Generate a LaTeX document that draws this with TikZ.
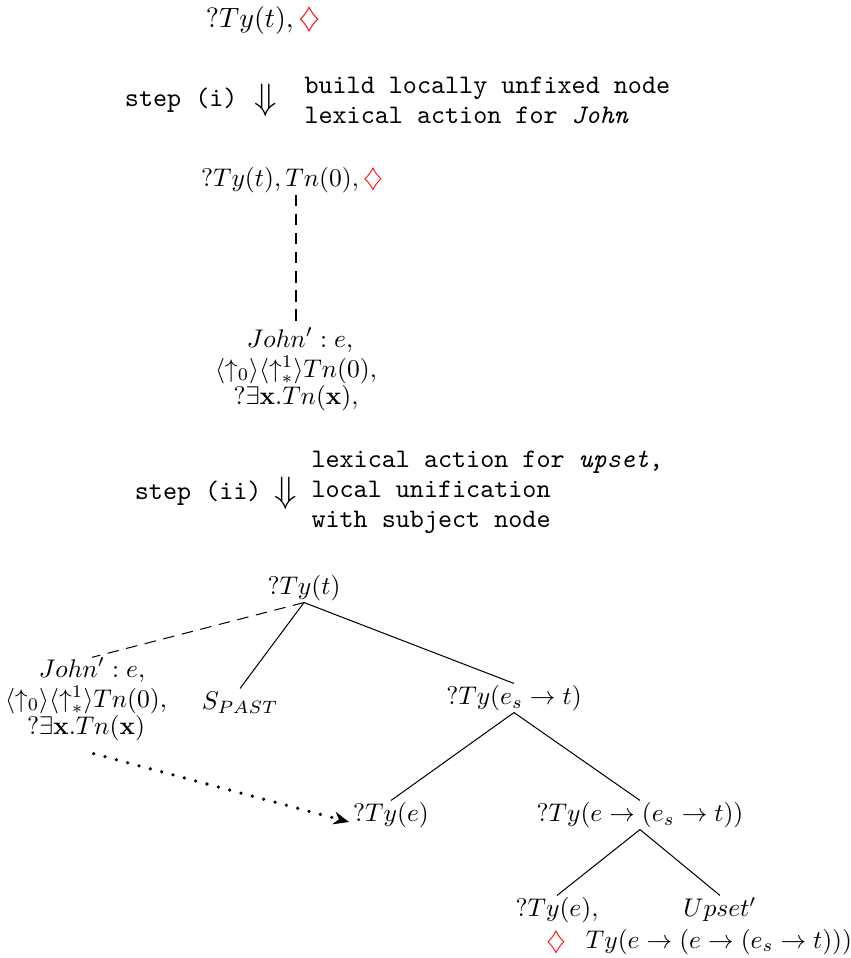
\documentclass[tikz,border=0pt]{standalone}
\usepackage{amsmath,amssymb}
\usetikzlibrary{arrows.meta}
\begin{document}
\begin{tikzpicture}[x=0.392pt,y=-0.392pt,
  lbl/.style={inner sep=0pt},
  tn/.style={inner sep=0.5pt, text height=7.5pt, text depth=2.5pt},
  ttx/.style={inner sep=0pt, font=\fontsize{10.5}{11.8}\selectfont\ttfamily, align=left},
  arr/.style={inner sep=0pt, font=\fontsize{13.4}{15}\selectfont},
  dsh/.style={dash pattern=on 4.5pt off 3pt},
  edge/.style={line width=0.4pt}]
\useasboundingbox (0,0) rectangle (851,958);
\newcommand{\rd}{{\color{red}\diamondsuit}}
% first state
\node[lbl, font=\fontsize{11}{13}\selectfont] (top) at (263,21) {$?Ty(t), \rd$};
% step (i)
\node[ttx, anchor=east] (stepi) at (238,100) {step (i)};
\node[arr] (arri) at (266,100) {$\Downarrow$};
\node[ttx, anchor=west] (texti) at (304,100) {build locally unfixed node\\lexical action for \textit{John}};
% second state
\node[tn] (mid) at (292,180) {$?Ty(t), Tn(0), \rd$};
\node[lbl, anchor=base] (ja1) at (300,347) {$John' : e,$};
\node[lbl, anchor=base] (ja2) at (296,377) {$\langle\uparrow_0\rangle\langle\uparrow^1_*\rangle Tn(0),$};
\node[lbl, anchor=base] (ja3) at (296,404) {$?\exists\mathbf{x}.Tn(\mathbf{x}),$};
\draw[dsh] (ja2.north |- mid.south) -- (ja2.north |- ja1.north);
% step (ii)
\node[ttx, anchor=east] (stepii) at (262,493) {step (ii)};
\node[arr] (arrii) at (286,493) {$\Downarrow$};
\node[ttx, anchor=west] (textii) at (311,492) {lexical action for \textit{upset},\\local unification\\with subject node};
% final tree
\node[tn] (root) at (304,588) {$?Ty(t)$};
\node[lbl, anchor=base] (jb1) at (92,677) {$John' : e,$};
\node[lbl, anchor=base] (jb2) at (86,707) {$\langle\uparrow_0\rangle\langle\uparrow^1_*\rangle Tn(0),$};
\node[lbl, anchor=base] (jb3) at (86,734) {$?\exists\mathbf{x}.Tn(\mathbf{x})$};
\node[tn] (spast) at (240,703) {$S_{PAST}$};
\node[tn] (es) at (514,698) {$?Ty(e_s \rightarrow t)$};
\node[tn] (tye) at (391,815) {$?Ty(e)$};
\node[tn] (tyees) at (640,815) {$?Ty(e \rightarrow (e_s \rightarrow t))$};
\node[tn] (tyec) at (557,910) {$?Ty(e),$};
\node[tn] (upset) at (720,910) {$Upset'$};
\node[lbl] (dm) at (556,942) {$\rd$};
\node[lbl, anchor=base] (tyfull) at (719,948) {$Ty(e \rightarrow (e \rightarrow (e_s \rightarrow t)))$};
\draw[dsh] (root.south) -- (jb1.north);
\draw[edge] (root.south) -- (spast.north);
\draw[edge] (root.south) -- (es.north);
\draw[edge] (es.south) -- (tye.north);
\draw[edge] (es.south) -- (tyees.north);
\draw[edge] (tyees.south) -- (tyec.north);
\draw[edge] (tyees.south) -- (upset.north);
\draw[line width=1.4pt, line cap=round, dash pattern=on 0pt off 4.6pt, -{Stealth[length=6pt,width=5pt]}, shorten >=1pt]
  ([xshift=3pt,yshift=-5pt]jb3.south) -- ([yshift=-3pt]tye.west);
\end{tikzpicture}
\end{document}
